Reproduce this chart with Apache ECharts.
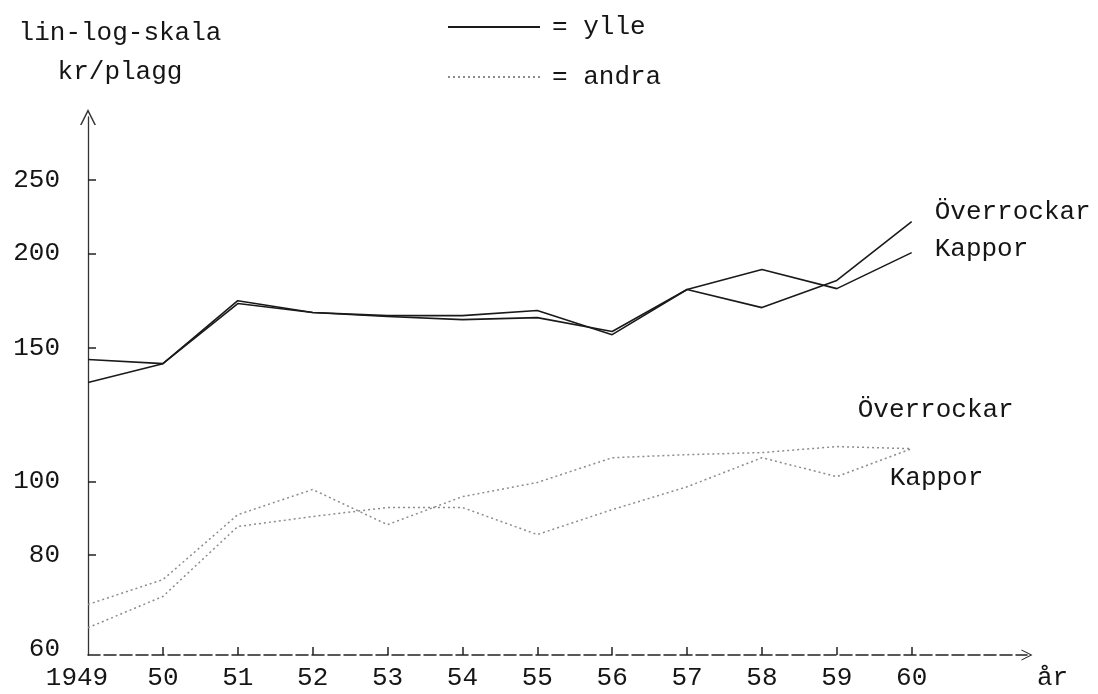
<!DOCTYPE html>
<html><head><meta charset="utf-8">
<script src="https://cdn.jsdelivr.net/npm/echarts@6/dist/echarts.min.js"></script>
<style>html,body{margin:0;padding:0;background:#fff}#c{width:1098px;height:694px}</style>
</head><body><div id="c"></div>
<script>
// ---- data ----
const years = [1949, 1950, 1951, 1952, 1953, 1954, 1955, 1956, 1957, 1958, 1959, 1960];
const yearLabels = ['1949', '50', '51', '52', '53', '54', '55', '56', '57', '58', '59', '60'];
const yLabelValues = [60, 80, 100, 150, 200, 250];
const yTickValues = [80, 100, 150, 200, 250];
// kr/plagg, yllekläder (solid)
const ylleOverrockar = [135.1, 143.1, 173.3, 167.2, 165.2, 163.6, 164.6, 157.8, 179.3, 169.7, 184.3, 220.4];
const ylleKappor     = [144.9, 143.1, 171.8, 167.2, 165.6, 165.6, 168.2, 156.3, 179.3, 190.5, 179.8, 200.6];
// kr/plagg, andra (dotted)
const andraOverrockar = [68.8, 74.2, 90.4, 97.6, 87.7, 95.5, 99.7, 107.5, 108.5, 109.2, 111.2, 110.5];
const andraKappor     = [64.1, 70.5, 87.2, 89.9, 92.4, 92.4, 85.1, 91.8, 98.4, 107.5, 101.5, 110.5];

const FONT = '"Liberation Mono", "DejaVu Sans Mono", monospace';
const INK = '#151515';
const pairs = arr => years.map((y, i) => [y, arr[i]]);
const txt = {fontFamily: FONT, fontSize: 26, color: INK};

const chevronUp = 'path://M0,20 L10,0 L20,20 L18,20 L10,4 L2,20 Z';

function lineSeries(name, arr, lineStyle, label, offset) {
  return {
    name, type: 'line', data: pairs(arr), symbol: 'none', showSymbol: false,
    lineStyle, itemStyle: {color: lineStyle.color}, silent: true, animation: false,
    endLabel: Object.assign({show: true, formatter: label, offset}, txt)
  };
}
const ylleStyle = {color: '#1a1a1a', width: 1.6, type: 'solid'};
const andraStyle = {color: '#8c8c8c', width: 1.5, type: [2, 3]};

const chart = echarts.init(document.getElementById('c'), null, {renderer: 'canvas'});
chart.setOption({
  animation: false,
  backgroundColor: '#fff',
  grid: {left: 88, right: 71, top: 117, bottom: 39, containLabel: false, outerBoundsMode: 'none'},
  legend: {
    orient: 'vertical', left: 442, top: 9, itemWidth: 92, itemHeight: 14, itemGap: 24,
    data: ['ylle', 'andra'], selectedMode: false,
    itemStyle: {opacity: 0},
    formatter: n => '= ' + n,
    textStyle: Object.assign({padding: [0, 0, 0, 7]}, txt)
  },
  xAxis: {
    type: 'value', min: 1949, max: 1961.54,
    axisLine: {show: true, lineStyle: {color: '#222', width: 1.5, type: [12, 4]},
      symbol: ['none', chevronUp], symbolSize: [16, 11]},
    axisTick: {show: true, inside: true, length: 8, customValues: years.slice(1),
      lineStyle: {color: '#222', width: 1.5}},
    axisLabel: Object.assign({
      customValues: years, margin: 10,
      formatter: v => {
        const i = years.indexOf(Math.round(v));
        const t = yearLabels[i];
        return i === 0 ? '{a|' + t + '}' : t;
      },
      rich: {a: Object.assign({padding: [0, 22, 0, 0]}, txt)}
    }, txt),
    splitLine: {show: false},
    name: 'år', nameLocation: 'end', nameGap: 10,
    nameTextStyle: Object.assign({verticalAlign: 'top', padding: [10, 0, 0, 0]}, txt)
  },
  yAxis: {
    type: 'log', logBase: 10, min: 59, max: 303,
    axisLine: {show: true, lineStyle: {color: '#333', width: 1.3},
      symbol: ['none', chevronUp], symbolSize: [25, 16]},
    axisTick: {show: true, inside: true, length: 8, customValues: yTickValues,
      lineStyle: {color: '#222', width: 1.5}},
    axisLabel: Object.assign({customValues: yLabelValues, margin: 28,
      formatter: v => String(Math.round(v))}, txt),
    splitLine: {show: false},
    name: 'lin-log-skala\nkr/plagg', nameLocation: 'end', nameGap: 25,
    nameTextStyle: Object.assign({align: 'center', lineHeight: 39, padding: [0, 0, 0, 64]}, txt)
  },
  series: [
    lineSeries('ylle', ylleOverrockar, ylleStyle, 'Överrockar', [15, -10]),
    lineSeries('ylle', ylleKappor, ylleStyle, 'Kappor', [15, -3]),
    lineSeries('andra', andraOverrockar, andraStyle, 'Överrockar', [-62, -39]),
    lineSeries('andra', andraKappor, andraStyle, 'Kappor', [-30, 29])
  ]
});
</script></body></html>
